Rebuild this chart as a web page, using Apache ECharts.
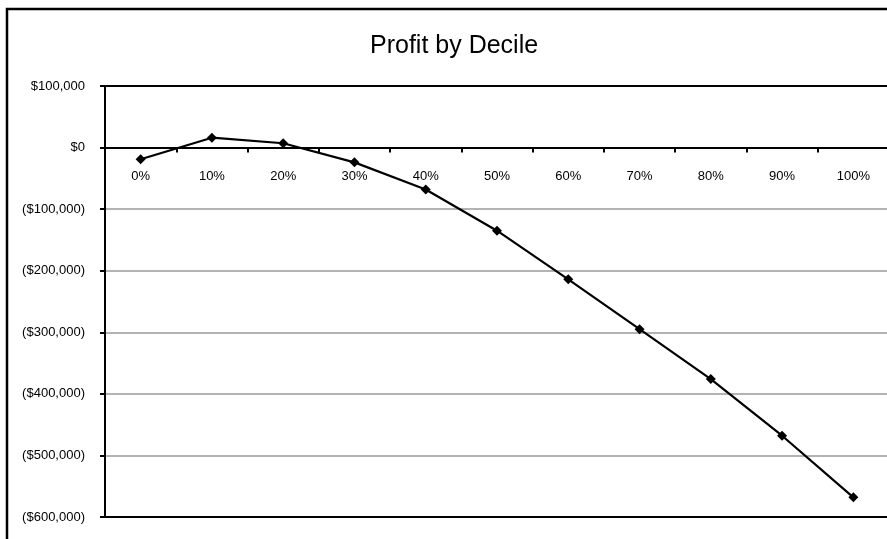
<!DOCTYPE html>
<html>
<head>
<meta charset="utf-8">
<script src="https://cdn.jsdelivr.net/npm/echarts@6/dist/echarts.min.js"></script>
<style>
html,body{margin:0;padding:0;background:#fff;}
#chart{width:887px;height:539px;}
</style>
</head>
<body>
<div id="chart"></div>
<script>
var categories = ['0%','10%','20%','30%','40%','50%','60%','70%','80%','90%','100%'];
var profit = [-19000, 16000, 7000, -24000, -68000, -135000, -214000, -295000, -376000, -468000, -568000];
var titleText = 'Profit by Decile';

function fmtMoney(v){
  var s = '$' + Math.abs(v).toString().replace(/\B(?=(\d{3})+(?!\d))/g, ',');
  return v < 0 ? '(' + s + ')' : s;
}

var chart = echarts.init(document.getElementById('chart'), null, {renderer:'canvas'});
chart.setOption({
  animation: false,
  backgroundColor: '#fff',
  textStyle: {fontFamily: 'Liberation Sans, Arial, sans-serif'},
  title: {
    text: titleText,
    left: 365,
    top: 29,
    textStyle: {fontFamily: 'Liberation Sans, Arial, sans-serif', fontSize: 25, fontWeight: 'normal', color: '#000'}
  },
  graphic: [{
    type: 'rect',
    shape: {x: 7, y: 9, width: 1000, height: 1000},
    style: {fill: 'none', stroke: '#000', lineWidth: 2.5},
    silent: true
  }],
  grid: {
    left: 105, top: 86, right: -2, bottom: 22,
    outerBoundsMode: 'none',
    containLabel: false,
    show: false
  },
  xAxis: {
    type: 'category',
    data: categories,
    boundaryGap: true,
    axisLine: {show: true, onZero: true, lineStyle: {color: '#000', width: 2}},
    axisTick: {show: true, interval: 0, inside: false, length: 5, lineStyle: {color: '#000', width: 2}},
    axisLabel: {color: '#000', fontSize: 13, margin: -347, interval: 0, fontFamily: 'Liberation Sans, Arial, sans-serif'},
    splitLine: {show: false}
  },
  yAxis: {
    type: 'value',
    min: -600000,
    max: 100000,
    interval: 100000,
    axisLine: {show: true, lineStyle: {color: '#000', width: 2}},
    axisTick: {show: true, inside: false, length: 5, lineStyle: {color: '#000', width: 2}},
    axisLabel: {color: '#000', fontSize: 13, margin: 20, formatter: fmtMoney, fontFamily: 'Liberation Sans, Arial, sans-serif'},
    splitLine: {show: true, lineStyle: {color: ['#000', '#b3b3b3', '#b3b3b3', '#b3b3b3', '#b3b3b3', '#b3b3b3', '#000', '#000'], width: 2}}
  },
  series: [{
    type: 'line',
    data: profit,
    symbol: 'diamond',
    symbolSize: 10,
    lineStyle: {color: '#000', width: 2.2},
    itemStyle: {color: '#000'},
    z: 5
  }]
});
</script>
</body>
</html>
